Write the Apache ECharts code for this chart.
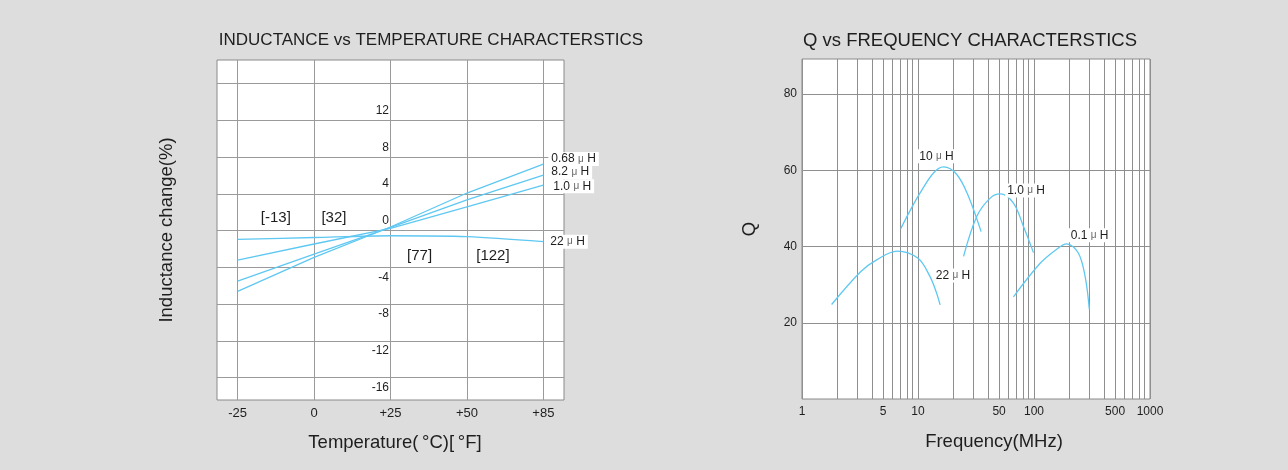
<!DOCTYPE html>
<html><head><meta charset="utf-8">
<script src="https://cdn.jsdelivr.net/npm/echarts@6/dist/echarts.min.js"></script>
<style>html,body{margin:0;padding:0;background:#dddddd;}#c{width:1288px;height:470px;}</style>
</head><body><div id="c"></div>
<script>
// ---------- Left chart data ----------
const tempLabels = ['-25', '0', '+25', '+50', '+85'];
const fahrenheitLabels = ['[-13]', '[32]', '[77]', '[122]'];
const changeTicks = [-16, -12, -8, -4, 0, 4, 8, 12, 16];
const changeLabels = [-16, -12, -8, -4, 0, 4, 8, 12];
const tempSeriesNames = ['0.68 μ H', '8.2 μ H', '1.0 μ H', '22 μ H'];
const ind068 = [-6.6, -2.9, 0.4, 4.1, 7.25];
const ind82 = [-5.5, -2.55, 0.35, 3.35, 6.05];
const ind10 = [-3.2, -1.45, 0.25, 2.6, 4.95];
const ind22 = [-0.95, -0.74, -0.55, -0.65, -1.2];

// ---------- Right chart data ----------
const freqLabels = [1, 5, 10, 50, 100, 500, 1000];
const freqGrid = [1, 2, 3, 4, 5, 6, 7, 8, 9, 10, 20, 30, 40, 50, 60, 70, 80, 90, 100, 200, 300, 400, 500, 600, 700, 800, 900, 1000];
const qLabels = [20, 40, 60, 80];
const qSeriesNames = ['10 μ H', '1.0 μ H', '0.1 μ H', '22 μ H'];
const f10uH = [7.1, 8.5, 10.4, 13.6, 16.6, 21.6, 27.2, 35];
const q10uH = [44.7, 49.3, 54, 59.3, 60.9, 58.9, 53.2, 43.9];
const f1uH = [24.7, 32.1, 41.9, 51, 66.5, 81, 99];
const q1uH = [37.4, 47.9, 52.7, 53.8, 51.4, 45.3, 38.4];
const f01uH = [66.5, 113, 157, 191, 241, 276, 300];
const q01uH = [26.8, 35.6, 39.3, 40.7, 38.3, 32.1, 23.5];
const f22uH = [1.8, 3.2, 4.4, 6.6, 10, 12.7, 14.5, 15.5];
const q22uH = [24.8, 33.4, 36.5, 38.8, 36.9, 32.1, 27.7, 24.7];

// ---------- Layout / style ----------
const FONT = 'Liberation Sans, Arial, sans-serif';
const LINE_COLOR = '#5ec8f2';
const TXT = '#1e1e1e';
const fLabelPos = [[0.5, 1.45], [1.26, 1.45], [2.38, -2.64], [3.34, -2.64]];
const endLabelOffsets = [[1, -5], [1, -3], [3, 1], [0, 0]];
const qLabelOffsets = [[-7, -3], [26, 4], [23, -1], [56, 32]];

const muRich = { m: { fontSize: 10, color: '#666', fontFamily: FONT } };
const muFmt = s => s.replace('μ', '{m|μ}');

const leftSets = [ind068, ind82, ind10, ind22];
const leftSeries = leftSets.map((arr, k) => ({
  type: 'line', xAxisIndex: 0, yAxisIndex: 0, name: tempSeriesNames[k],
  data: arr.map((v, i) => [i, v]),
  showSymbol: false, smooth: k === 3 ? 0.3 : false, silent: true,
  lineStyle: { color: LINE_COLOR, width: 1.3 }, itemStyle: { color: LINE_COLOR },
  endLabel: {
    show: true, formatter: () => muFmt(tempSeriesNames[k]), distance: 4,
    offset: endLabelOffsets[k], backgroundColor: '#fff', padding: [1, 3, 1, 3],
    fontSize: 12, color: TXT, fontFamily: FONT, rich: muRich
  }
}));

const rightF = [f10uH, f1uH, f01uH, f22uH];
const rightQ = [q10uH, q1uH, q01uH, q22uH];
const rightSeries = rightF.map((fs, k) => ({
  type: 'line', xAxisIndex: 1, yAxisIndex: 1, name: qSeriesNames[k],
  data: fs.map((f, i) => [f, rightQ[k][i]]),
  showSymbol: false, smooth: 0.35, silent: true,
  lineStyle: { color: LINE_COLOR, width: 1.3 }, itemStyle: { color: LINE_COLOR }
}));

const hiddenItem = { color: 'rgba(0,0,0,0)', opacity: 1 };

const qLabelSeries = {
  type: 'scatter', xAxisIndex: 1, yAxisIndex: 1, silent: true, symbolSize: 1,
  itemStyle: hiddenItem, z: 5,
  data: rightF.map((fs, k) => {
    const qs = rightQ[k];
    const pk = qs.indexOf(Math.max(...qs));
    return {
      value: [fs[pk], qs[pk]],
      label: {
        show: true, position: 'top', distance: 0, offset: qLabelOffsets[k],
        formatter: muFmt(qSeriesNames[k]), backgroundColor: '#fff', padding: [1, 2, 1, 2],
        fontSize: 12, color: TXT, opacity: 1, textBorderWidth: 0, fontFamily: FONT, rich: muRich
      }
    };
  })
};

const fLabelSeries = {
  type: 'scatter', xAxisIndex: 0, yAxisIndex: 0, silent: true, symbolSize: 1,
  itemStyle: hiddenItem,
  data: fahrenheitLabels.map((t, i) => ({
    value: fLabelPos[i],
    label: { show: true, position: 'top', distance: 0, offset: [0, 8.5], formatter: t,
      fontSize: 15, color: TXT, opacity: 1, textBorderWidth: 0, fontFamily: FONT }
  }))
};

const gridLine = { show: true, lineStyle: { color: '#9a9a9a', width: 1 } };
const nameStyle = { fontSize: 18.5, color: TXT, fontFamily: FONT };

const option = {
  backgroundColor: '#dddddd',
  animation: false,
  textStyle: { fontFamily: FONT },
  title: [
    { text: 'INDUCTANCE vs TEMPERATURE CHARACTERSTICS', left: 426, top: 27, textAlign: 'center',
      textStyle: { fontSize: 17, fontWeight: 'normal', color: TXT, fontFamily: FONT } },
    { text: 'Q vs FREQUENCY CHARACTERSTICS', left: 965, top: 26, textAlign: 'center',
      textStyle: { fontSize: 18.5, fontWeight: 'normal', color: TXT, fontFamily: FONT } }
  ],
  grid: [
    { left: 217, top: 60, width: 347, height: 340, show: true, backgroundColor: '#fff', borderColor: '#8a8a8a', borderWidth: 1, containLabel: false },
    { left: 802, top: 59, width: 348, height: 340, show: true, backgroundColor: '#fff', borderColor: '#8a8a8a', borderWidth: 1, containLabel: false }
  ],
  xAxis: [
    { gridIndex: 0, type: 'value', min: -0.27, max: 4.27,
      axisLine: { show: false },
      axisTick: { show: false, customValues: tempLabels.map((_, i) => i) },
      axisLabel: { customValues: tempLabels.map((_, i) => i), formatter: v => tempLabels[Math.round(v)],
        margin: 7, fontSize: 13, color: TXT, fontFamily: FONT },
      splitLine: gridLine,
      name: 'Temperature(\u2009°C)[\u2009°F]', nameLocation: 'middle', nameGap: 33,
      nameTextStyle: Object.assign({ padding: [0, 0, 0, 9] }, nameStyle) },
    { gridIndex: 1, type: 'log', logBase: 10, min: 1, max: 1000,
      axisLine: { show: false },
      axisTick: { show: false, customValues: freqGrid },
      axisLabel: { customValues: freqLabels, formatter: v => String(Math.round(v)), margin: 7, fontSize: 12, color: TXT, fontFamily: FONT },
      splitLine: { show: true, lineStyle: { color: '#8f8f8f', width: 1 } },
      name: 'Frequency(MHz)', nameLocation: 'middle', nameGap: 33,
      nameTextStyle: Object.assign({ padding: [0, 0, 0, 36] }, nameStyle) }
  ],
  yAxis: [
    { gridIndex: 0, type: 'value', min: -18.43, max: 18.58,
      axisLine: { show: false },
      axisTick: { show: false, customValues: changeTicks },
      axisLabel: { customValues: changeLabels, inside: true, margin: 172, align: 'right',
        formatter: v => (v >= 0 ? '{p|' + v + '}' : '{n|' + v + '}'),
        rich: { p: { padding: [0, 0, 20, 0], fontSize: 12, color: TXT, fontFamily: FONT },
                n: { padding: [20, 0, 0, 0], fontSize: 12, color: TXT, fontFamily: FONT } } },
      splitLine: gridLine,
      name: 'Inductance change(%)', nameLocation: 'middle', nameGap: 41,
      nameTextStyle: nameStyle },
    { gridIndex: 1, type: 'value', min: 0, max: 89.2,
      axisLine: { show: false },
      axisTick: { show: false, customValues: qLabels },
      axisLabel: { customValues: qLabels, margin: 5, fontSize: 12, color: TXT, fontFamily: FONT },
      splitLine: { show: true, lineStyle: { color: '#8f8f8f', width: 1 } },
      name: 'Q', nameLocation: 'middle', nameGap: 43,
      nameTextStyle: nameStyle }
  ],
  series: [...leftSeries, fLabelSeries, ...rightSeries, qLabelSeries]
};

const chart = echarts.init(document.getElementById('c'), null, { renderer: 'canvas' });
chart.setOption(option);
</script></body></html>
